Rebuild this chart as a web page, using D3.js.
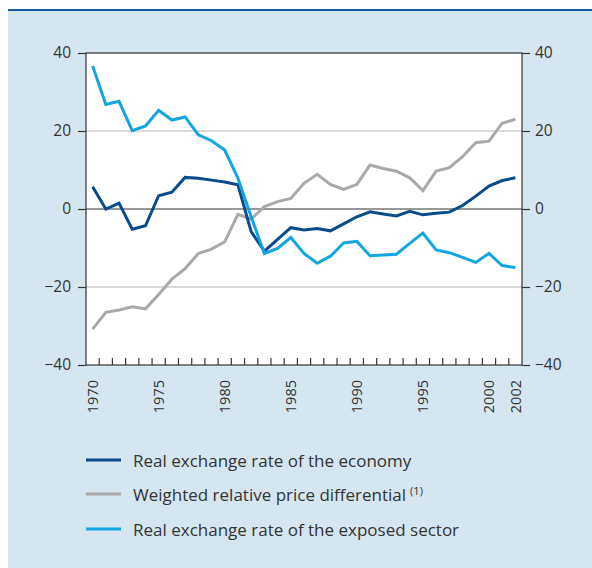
<!DOCTYPE html>
<html>
<head>
<meta charset="utf-8">
<script src="https://cdn.jsdelivr.net/npm/d3@7"></script>
<style>
  body { margin: 0; background: #fff; }
  svg { display: block; font-family: "Open Sans", sans-serif; }
</style>
</head>
<body>
<svg id="chart" width="592" height="568"></svg>
<script>
// years on the x axis
const years = d3.range(1970, 2003);
const yearLabels = [1970, 1975, 1980, 1985, 1990, 1995, 2000, 2002];
const yTicks = [-40, -20, 0, 20, 40];

// series
const economy = [5.7, 0, 1.5, -5.2, -4.3, 3.4, 4.3, 8.1, 7.9, 7.4, 6.9, 6.2, -5.8, -10.8, -7.8, -4.8, -5.4,
  -5.0, -5.6, -3.8, -2.0, -0.7, -1.3, -1.8, -0.6, -1.5, -1.1, -0.8, 0.9, 3.3, 5.9, 7.3, 8.0];
const priceDiff = [-30.8, -26.5, -25.9, -25.1, -25.6, -21.9, -18.0, -15.3, -11.4, -10.3, -8.4, -1.4, -2.6, 0.6, 1.9, 2.7, 6.6,
  8.9, 6.3, 5.0, 6.3, 11.3, 10.4, 9.7, 8.0, 4.7, 9.7, 10.6, 13.4, 17.0, 17.4, 22.0, 23.0];
const exposed = [36.7, 26.8, 27.6, 20.1, 21.3, 25.3, 22.8, 23.6, 19.0, 17.5, 15.1, 7.9, -2.0, -11.4, -10.1, -7.3, -11.4,
  -13.9, -12.1, -8.7, -8.3, -12.0, -11.8, -11.6, -8.8, -6.2, -10.5, -11.2, -12.4, -13.7, -11.4, -14.5, -15.0];

const seriesNames = ["Real exchange rate of the economy", "Weighted relative price differential", "Real exchange rate of the exposed sector"];
const seriesColors = ["#0b4a8b", "#a9a9a9", "#12a5e3"];

const svg = d3.select("#chart");

// panel background and top rule
svg.append("rect").attr("x", 8).attr("y", 10).attr("width", 584).attr("height", 558).attr("fill", "#d5e6f0");
svg.append("line").attr("x1", 8).attr("x2", 592).attr("y1", 10).attr("y2", 10)
  .attr("stroke", "#15589a").attr("stroke-width", 2);

const pLeft = 86, pRight = 522, pTop = 53, pBottom = 365;

const x = d3.scaleBand().domain(years).range([pLeft, pRight]);
const y = d3.scaleLinear().domain([-40, 40]).range([pBottom, pTop]);
const cx = d => x(d) + x.bandwidth() / 2;
const fmt = d => String(d).replace("-", "\u2212");

// plot area
svg.append("rect").attr("x", pLeft).attr("y", pTop).attr("width", pRight - pLeft).attr("height", pBottom - pTop).attr("fill", "#fff");

// gridlines
svg.append("g").selectAll("line").data([-20, 20]).join("line")
  .attr("x1", pLeft).attr("x2", pRight)
  .attr("y1", d => y(d)).attr("y2", d => y(d))
  .attr("stroke", "#b4b4b4").attr("stroke-width", 1);

// left and right axes
const yLeft = svg.append("g").attr("transform", `translate(${pLeft},0)`)
  .call(d3.axisLeft(y).tickValues(yTicks).tickSize(8).tickPadding(7).tickFormat(fmt));
const yRight = svg.append("g").attr("transform", `translate(${pRight},0)`)
  .call(d3.axisRight(y).tickValues(yTicks).tickSize(8).tickPadding(5).tickFormat(fmt));
[yLeft, yRight].forEach(g => {
  g.select(".domain").remove();
  g.selectAll("line").attr("stroke", "#333").attr("stroke-width", 1.2);
  g.selectAll("text").attr("fill", "#333").style("font-size", "15.5px").style("font-family", '"Open Sans", sans-serif');
});

// zero line
svg.append("line").attr("x1", pLeft).attr("x2", pRight).attr("y1", y(0)).attr("y2", y(0))
  .attr("stroke", "#333").attr("stroke-width", 1.2);

// year ticks at band boundaries (pointing into the plot)
svg.append("g").selectAll("line").data(years.slice(1)).join("line")
  .attr("x1", d => x(d)).attr("x2", d => x(d))
  .attr("y1", pBottom).attr("y2", pBottom - 7)
  .attr("stroke", "#333").attr("stroke-width", 1.2);

// frame
svg.append("rect").attr("x", pLeft).attr("y", pTop).attr("width", pRight - pLeft).attr("height", pBottom - pTop)
  .attr("fill", "none").attr("stroke", "#333").attr("stroke-width", 1.2);

// year labels, rotated
svg.append("g").selectAll("text").data(yearLabels).join("text")
  .attr("transform", d => `translate(${cx(d) + 5.3},380) rotate(-90)`)
  .attr("text-anchor", "end")
  .attr("fill", "#333").style("font-size", "14.5px")
  .text(d => d);

// lines
const line = d3.line().x((d, i) => cx(years[i])).y(d => y(d));
const drawOrder = [[priceDiff, 1], [economy, 0], [exposed, 2]];
svg.append("g").selectAll("path").data(drawOrder).join("path")
  .attr("d", d => line(d[0]))
  .attr("fill", "none")
  .attr("stroke", d => seriesColors[d[1]])
  .attr("stroke-width", 3)
  .attr("stroke-linejoin", "miter");

// legend
const legendY = [460, 494, 529];
const lg = svg.append("g").selectAll("g").data(seriesNames).join("g")
  .attr("transform", (d, i) => `translate(86,${legendY[i]})`);
lg.append("line").attr("x1", 0).attr("x2", 35).attr("y1", 0).attr("y2", 0)
  .attr("stroke", (d, i) => seriesColors[i]).attr("stroke-width", 3);
const lt = lg.append("text").attr("x", 47).attr("y", 7)
  .attr("fill", "#333").style("font-size", "17px")
  .text(d => d);
lt.filter((d, i) => i === 1).append("tspan")
  .attr("dx", 4).attr("dy", -6).style("font-size", "11px").text("(1)");
</script>
</body>
</html>
